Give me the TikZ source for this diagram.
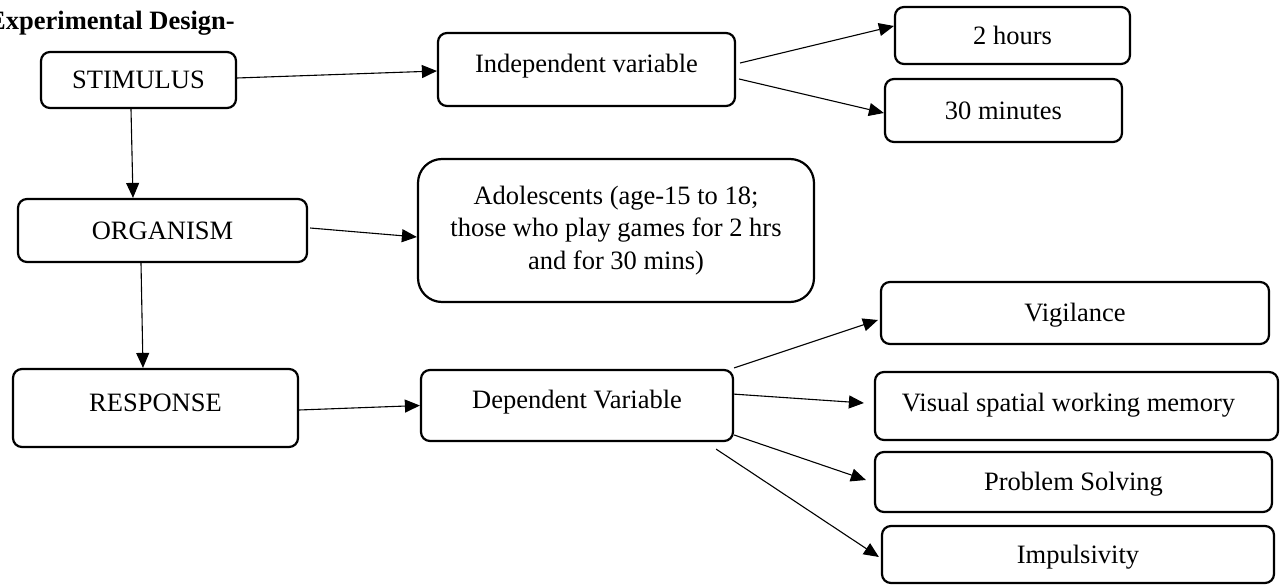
\documentclass[tikz,border=0pt]{standalone}
\usepackage{fontspec}
\setmainfont{Liberation Serif}
\usetikzlibrary{arrows.meta}
\begin{document}
\begin{tikzpicture}[x=1pt,y=-1pt,
  box/.style={draw, line width=2.2pt, rounded corners=9pt, inner sep=0pt,
    font=\fontsize{26.5}{32.5}\selectfont},
  mid/.style={text height=18pt, text depth=0.5pt},
  raised/.style={text height=18pt, text depth=12pt},
  conn/.style={line width=1.1pt, -{Triangle[length=15pt,width=13pt]}}]
\useasboundingbox (0,0) rectangle (1283,585);

\node[anchor=base east, font=\fontsize{26.5}{30}\selectfont\bfseries, inner sep=0pt]
  (title) at (235,30) {Experimental Design-};

\node[box, mid, minimum width=195pt, minimum height=56pt] (stim) at (138.5,80) {STIMULUS};
\node[box, raised, minimum width=297pt, minimum height=73pt] (indep) at (586.5,69.5) {Independent variable};
\node[box, mid, minimum width=235pt, minimum height=57pt] (two) at (1012.5,35.5) {2 hours};
\node[box, mid, minimum width=237pt, minimum height=63pt] (thirty) at (1003.5,110.5) {30 minutes};
\node[box, mid, minimum width=289pt, minimum height=63pt] (org) at (162.5,230.5) {ORGANISM};
\node[box, rounded corners=24pt, align=center, minimum width=396pt, minimum height=143pt] (adol) at (616,230.5)
  {Adolescents (age-15 to 18;\\ those who play games for 2 hrs\\ and for 30 mins)};
\node[box, raised, minimum width=285pt, minimum height=78pt] (resp) at (155.5,408) {RESPONSE};
\node[box, raised, minimum width=312pt, minimum height=71pt] (dep) at (577,405.5) {Dependent Variable};
\node[box, mid, minimum width=388pt, minimum height=62pt] (vig) at (1075,313) {Vigilance};
\node[box, text height=18pt, text depth=7pt, minimum width=403pt, minimum height=68pt] (vis) at (1076.5,406)
  {Visual spatial working memory\hspace*{16pt}};
\node[box, mid, minimum width=397pt, minimum height=60pt] (prob) at (1073.5,482) {Problem Solving};
\node[box, mid, minimum width=392pt, minimum height=57pt] (imp) at (1078,554.5) {Impulsivity};

\draw[conn] ([yshift=2pt]stim.east) -- ([yshift=-1.5pt]indep.west);
\draw[conn] ([xshift=-7.5pt]stim.south) -- ([xshift=-29.5pt]org.north);
\draw[conn] ([xshift=4pt,yshift=6.5pt]indep.east) -- ([yshift=9.5pt]two.west);
\draw[conn] ([xshift=3pt,yshift=-9.5pt]indep.east) -- ([yshift=-2.5pt]thirty.west);
\draw[conn] ([xshift=2pt,yshift=2.5pt]org.east) -- ([yshift=-6.5pt]adol.west);
\draw[conn] ([xshift=-21.5pt]org.south) -- ([xshift=-12.5pt]resp.north);
\draw[conn] ([yshift=-2pt]resp.east) -- (dep.west);
\draw[conn] ([yshift=1pt]dep.north east) -- ([xshift=-2pt,yshift=-7pt]vig.west);
\draw[conn] ([xshift=-2pt,yshift=11.5pt]dep.east) -- ([xshift=-10pt,yshift=3pt]vis.west);
\draw[conn] ([yshift=-29.5pt]dep.east) -- ([xshift=-8pt,yshift=2pt]prob.west);
\draw[conn] ([xshift=-18pt,yshift=-7pt]dep.south east) -- ([xshift=-2pt,yshift=-2.5pt]imp.west);
\end{tikzpicture}
\end{document}
